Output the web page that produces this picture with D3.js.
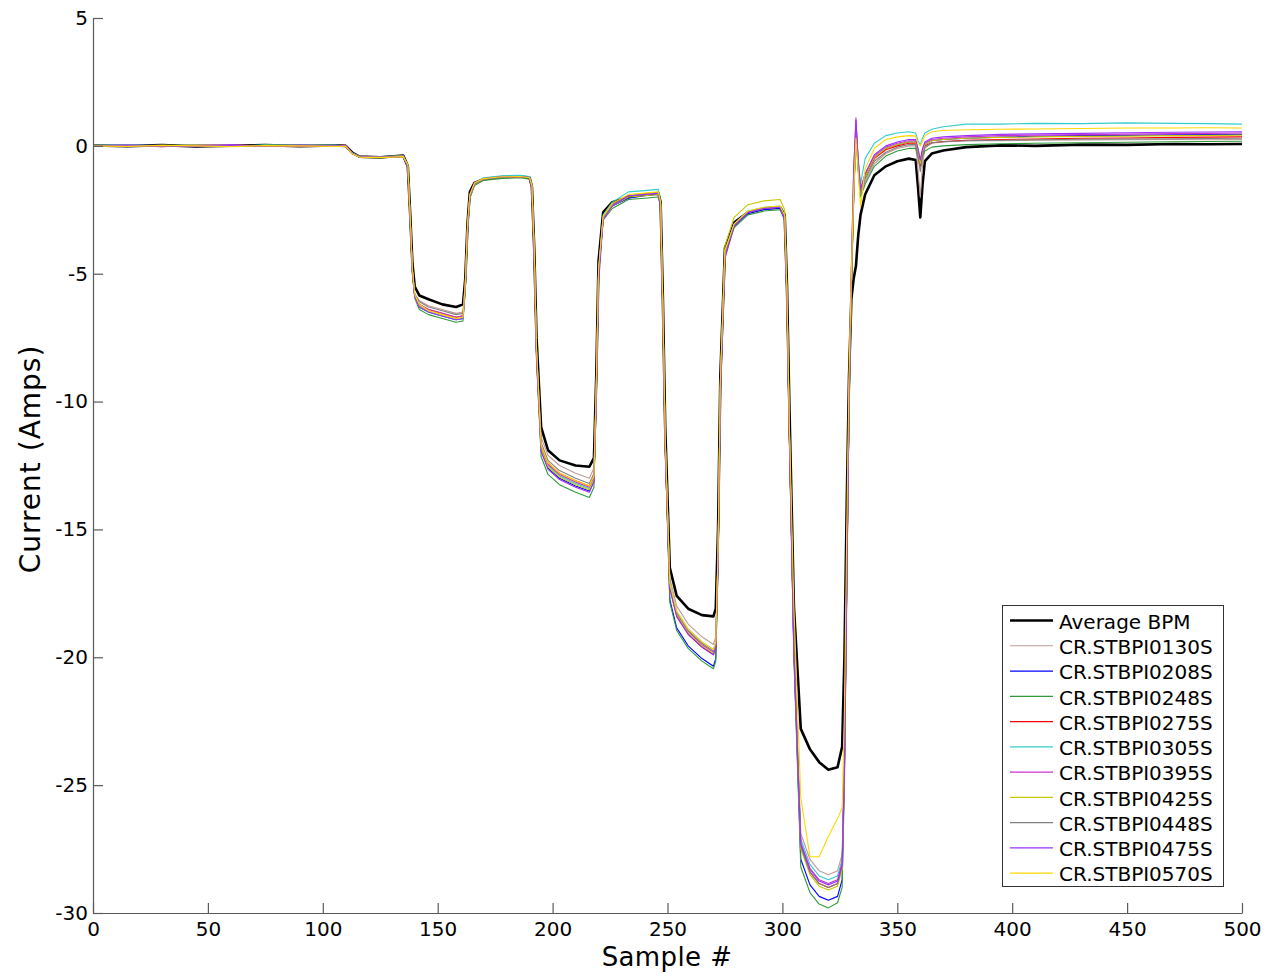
<!DOCTYPE html>
<html>
<head>
<meta charset="utf-8">
<script src="https://cdn.jsdelivr.net/npm/d3@7"></script>
<style>
  html, body { margin: 0; padding: 0; background: #fff; }
  svg { display: block; font-family: "DejaVu Sans", sans-serif; }
</style>
</head>
<body>
<svg id="chart" width="1274" height="973"></svg>
<script>
// ---------- DATA ----------
const sampleIdx = [
  0,15,30,45,60,75,90,105,
  110,113,116,125,135,
  137,138,139,140,142,146,152,158,
  161,162,163,164,166,170,178,186,
  190,191,192,193,195,198,203,210,
  216,218,219,220,222,226,233,240,
  246,247,248,249,251,254,259,265,
  270,271,272,273,275,279,285,292,
  299,301,302,303,305,308,312,316,
  320,324,326,327,328,329,330,331,
  332,333,334,336,340,345,350,355,
  358,359,360,361,362,365,370,380,
  395,410,430,450,470,485,500
];

const averageBPM = [
  0.02,-0.01,0.03,-0.02,0.01,0.03,-0.01,0.02,
  0.0,-0.28,-0.42,-0.45,-0.38,
  -0.8,-2.6,-4.6,-5.5,-5.85,-6.0,-6.2,-6.3,
  -6.2,-5.2,-3.0,-1.8,-1.45,-1.3,-1.22,-1.2,
  -1.25,-1.6,-4.0,-7.5,-11.0,-11.9,-12.3,-12.5,
  -12.55,-12.2,-9.0,-4.5,-2.6,-2.2,-2.0,-1.9,
  -1.85,-2.2,-6.0,-11.0,-16.5,-17.6,-18.1,-18.35,
  -18.4,-18.1,-15.0,-9.0,-4.0,-3.0,-2.6,-2.45,
  -2.4,-2.7,-5.5,-10.0,-18.0,-22.8,-23.6,-24.1,
  -24.4,-24.3,-23.5,-20.0,-14.0,-9.0,-6.0,-5.2,
  -4.7,-3.5,-2.7,-1.9,-1.15,-0.8,-0.6,-0.5,
  -0.55,-1.6,-2.8,-1.5,-0.6,-0.3,-0.18,-0.05,
  0.02,0.0,0.05,0.04,0.07,0.06,0.07
];

const stbpi0130S = [
  0.03,0.0,-0.02,0.02,0.04,-0.01,0.02,0.01,
  -0.01,-0.3,-0.42,-0.44,-0.4,
  -0.8,-2.8,-4.9,-5.8,-6.05,-6.25,-6.4,-6.55,
  -6.5,-5.35,-3.2,-2.0,-1.5,-1.3,-1.22,-1.2,
  -1.25,-1.6,-4.2,-8.0,-11.4,-12.1,-12.5,-12.8,
  -13.0,-12.6,-9.5,-5.0,-2.8,-2.3,-1.95,-1.9,
  -1.85,-2.3,-6.5,-11.5,-16.9,-18.0,-18.7,-19.2,
  -19.5,-19.2,-16.0,-9.5,-4.2,-3.1,-2.6,-2.45,
  -2.4,-2.8,-6.0,-11.0,-19.5,-26.9,-27.9,-28.35,
  -28.5,-28.35,-27.7,-24.0,-17.0,-10.0,-5.5,-2.0,
  0.6,-0.9,-1.9,-1.4,-0.7,-0.3,-0.1,0.0,
  0.0,-0.9,-2.0,-0.7,-0.1,0.1,0.15,0.2,
  0.2,0.22,0.23,0.24,0.25,0.24,0.25
];

const stbpi0208S = [
  -0.02,0.03,0.01,-0.03,0.02,0.0,0.03,-0.02,
  0.01,-0.29,-0.43,-0.45,-0.41,
  -0.85,-2.9,-5.0,-5.9,-6.3,-6.5,-6.65,-6.8,
  -6.75,-5.6,-3.3,-2.0,-1.5,-1.3,-1.22,-1.2,
  -1.25,-1.6,-4.3,-8.2,-11.9,-12.6,-13.0,-13.3,
  -13.5,-13.1,-9.7,-5.0,-2.8,-2.35,-2.05,-1.95,
  -1.9,-2.3,-6.6,-11.7,-17.75,-18.85,-19.55,-20.05,
  -20.35,-20.05,-16.3,-9.6,-4.2,-3.15,-2.65,-2.5,
  -2.45,-2.85,-6.1,-11.2,-19.8,-27.9,-28.9,-29.35,
  -29.5,-29.35,-28.7,-24.5,-17.3,-10.2,-5.6,-2.0,
  0.7,-0.8,-1.8,-1.2,-0.45,-0.1,0.05,0.15,
  0.15,-0.2,-0.7,-0.2,0.05,0.2,0.25,0.3,
  0.34,0.37,0.4,0.41,0.43,0.44,0.45
];

const stbpi0248S = [
  0.01,-0.02,0.03,0.0,-0.02,0.02,0.0,0.03,
  -0.02,-0.31,-0.43,-0.46,-0.42,
  -0.85,-2.9,-5.0,-5.95,-6.4,-6.6,-6.75,-6.9,
  -6.85,-5.7,-3.3,-2.05,-1.55,-1.35,-1.27,-1.25,
  -1.3,-1.65,-4.3,-8.3,-12.15,-12.85,-13.25,-13.55,
  -13.75,-13.35,-9.8,-5.1,-2.9,-2.45,-2.1,-2.05,
  -2.0,-2.4,-6.6,-11.8,-17.85,-18.95,-19.65,-20.15,
  -20.45,-20.15,-16.4,-9.7,-4.3,-3.2,-2.7,-2.55,
  -2.5,-2.9,-6.2,-11.3,-20.0,-28.2,-29.2,-29.65,
  -29.8,-29.6,-29.0,-24.8,-17.5,-10.3,-5.7,-2.2,
  0.4,-1.0,-2.0,-1.5,-0.8,-0.4,-0.2,-0.1,
  -0.1,-0.4,-0.8,-0.4,-0.2,-0.05,0.0,0.05,
  0.08,0.1,0.12,0.14,0.16,0.17,0.18
];

const stbpi0275S = [
  0.0,0.02,-0.03,0.03,0.0,-0.02,0.01,0.0,
  0.02,-0.3,-0.42,-0.44,-0.39,
  -0.8,-2.8,-4.9,-5.85,-6.2,-6.4,-6.55,-6.7,
  -6.65,-5.5,-3.2,-2.0,-1.5,-1.3,-1.22,-1.2,
  -1.25,-1.6,-4.2,-8.1,-11.7,-12.4,-12.8,-13.1,
  -13.3,-12.9,-9.6,-5.0,-2.8,-2.3,-1.95,-1.9,
  -1.85,-2.3,-6.5,-11.6,-17.3,-18.4,-19.1,-19.6,
  -19.9,-19.6,-16.1,-9.5,-4.2,-3.1,-2.6,-2.45,
  -2.4,-2.8,-6.0,-11.1,-19.6,-27.4,-28.4,-28.85,
  -29.0,-28.85,-28.2,-24.2,-17.1,-10.1,-5.5,-2.0,
  0.8,-0.8,-1.8,-1.2,-0.5,-0.15,0.0,0.1,
  0.1,-0.3,-0.8,-0.3,0.0,0.12,0.17,0.22,
  0.25,0.27,0.3,0.31,0.33,0.34,0.35
];

const stbpi0305S = [
  0.02,0.04,0.0,0.03,-0.01,0.04,0.02,0.03,
  0.0,-0.28,-0.41,-0.43,-0.38,
  -0.8,-2.8,-4.9,-5.9,-6.3,-6.5,-6.65,-6.8,
  -6.75,-5.6,-3.2,-1.95,-1.45,-1.25,-1.17,-1.15,
  -1.2,-1.55,-4.2,-8.1,-11.8,-12.5,-12.9,-13.2,
  -13.4,-13.0,-9.6,-4.9,-2.7,-2.2,-1.8,-1.75,
  -1.7,-2.2,-6.5,-11.5,-17.1,-18.2,-18.9,-19.4,
  -19.7,-19.4,-16.0,-9.4,-4.1,-3.05,-2.55,-2.4,
  -2.35,-2.75,-6.0,-11.0,-19.5,-27.1,-28.1,-28.55,
  -28.7,-28.55,-27.9,-24.1,-16.8,-9.6,-5.0,-1.5,
  0.5,-0.5,-1.5,-0.5,0.1,0.4,0.5,0.55,
  0.5,0.2,0.05,0.3,0.5,0.65,0.75,0.85,
  0.85,0.88,0.87,0.9,0.88,0.87,0.85
];

const stbpi0395S = [
  0.01,0.0,0.02,-0.02,0.03,0.01,-0.02,0.02,
  -0.01,-0.3,-0.42,-0.45,-0.4,
  -0.8,-2.8,-4.9,-5.85,-6.2,-6.4,-6.55,-6.7,
  -6.65,-5.5,-3.2,-2.0,-1.5,-1.3,-1.22,-1.2,
  -1.25,-1.6,-4.2,-8.1,-11.75,-12.45,-12.85,-13.15,
  -13.35,-12.95,-9.6,-5.0,-2.8,-2.3,-1.95,-1.9,
  -1.85,-2.3,-6.5,-11.6,-17.2,-18.3,-19.0,-19.5,
  -19.8,-19.5,-16.1,-9.5,-4.2,-3.1,-2.6,-2.45,
  -2.4,-2.8,-6.0,-11.1,-19.6,-27.25,-28.25,-28.7,
  -28.85,-28.7,-28.05,-24.1,-17.0,-9.8,-4.8,-1.0,
  1.1,-0.6,-1.7,-1.1,-0.4,-0.05,0.1,0.2,
  0.2,-0.15,-0.6,-0.15,0.1,0.25,0.3,0.35,
  0.4,0.42,0.44,0.46,0.48,0.49,0.5
];

const stbpi0425S = [
  -0.01,0.02,0.0,0.03,-0.02,0.02,0.01,-0.01,
  0.0,-0.3,-0.43,-0.44,-0.4,
  -0.8,-2.8,-4.9,-5.9,-6.25,-6.45,-6.6,-6.75,
  -6.7,-5.55,-3.2,-2.0,-1.5,-1.3,-1.22,-1.2,
  -1.25,-1.6,-4.2,-8.1,-11.85,-12.55,-12.95,-13.25,
  -13.45,-13.05,-9.6,-5.0,-2.8,-2.35,-2.0,-1.95,
  -1.9,-2.3,-6.5,-11.6,-17.25,-18.35,-19.05,-19.55,
  -19.85,-19.55,-16.0,-9.3,-3.9,-2.8,-2.3,-2.15,
  -2.1,-2.5,-5.8,-11.0,-19.6,-27.5,-28.5,-28.95,
  -29.1,-28.95,-28.3,-24.3,-17.1,-10.0,-5.5,-2.0,
  0.6,-0.8,-1.8,-1.2,-0.45,-0.1,0.05,0.15,
  0.15,-0.25,-0.7,-0.25,0.05,0.2,0.25,0.3,
  0.33,0.35,0.37,0.38,0.4,0.41,0.42
];

const stbpi0448S = [
  0.02,-0.01,0.01,0.02,-0.01,0.0,0.03,0.01,
  0.01,-0.29,-0.42,-0.44,-0.4,
  -0.8,-2.8,-4.9,-5.8,-6.1,-6.3,-6.45,-6.6,
  -6.55,-5.4,-3.2,-2.0,-1.5,-1.3,-1.22,-1.2,
  -1.25,-1.6,-4.2,-8.0,-11.6,-12.3,-12.7,-13.0,
  -13.2,-12.8,-9.5,-5.0,-2.8,-2.3,-1.95,-1.9,
  -1.85,-2.3,-6.5,-11.6,-17.15,-18.25,-18.95,-19.45,
  -19.75,-19.45,-16.0,-9.5,-4.2,-3.1,-2.6,-2.45,
  -2.4,-2.8,-6.0,-11.1,-19.6,-27.4,-28.4,-28.85,
  -29.0,-28.85,-28.2,-24.2,-17.1,-10.0,-5.5,-2.0,
  0.5,-0.9,-1.9,-1.3,-0.6,-0.25,-0.05,0.05,
  0.05,-0.45,-1.0,-0.4,-0.05,0.12,0.16,0.2,
  0.22,0.24,0.26,0.27,0.28,0.29,0.3
];

const stbpi0475S = [
  0.0,0.03,-0.01,0.01,0.03,-0.02,0.02,0.0,
  0.0,-0.3,-0.43,-0.45,-0.41,
  -0.85,-2.9,-5.0,-5.9,-6.3,-6.5,-6.65,-6.8,
  -6.75,-5.6,-3.1,-1.9,-1.45,-1.28,-1.21,-1.2,
  -1.25,-1.7,-4.5,-8.4,-11.95,-12.65,-13.05,-13.35,
  -13.55,-13.15,-10.0,-5.4,-2.9,-2.35,-1.95,-1.9,
  -1.85,-2.4,-6.9,-12.0,-17.3,-18.4,-19.1,-19.6,
  -19.9,-19.6,-16.5,-10.0,-4.4,-3.15,-2.6,-2.45,
  -2.4,-2.9,-6.3,-11.5,-19.9,-27.3,-28.3,-28.75,
  -28.9,-28.75,-28.1,-24.5,-17.5,-10.2,-4.9,-1.0,
  1.0,-0.6,-1.7,-1.1,-0.35,0.0,0.15,0.25,
  0.25,-0.1,-0.55,-0.1,0.15,0.3,0.35,0.4,
  0.45,0.47,0.49,0.51,0.53,0.54,0.55
];

const stbpi0570S = [
  0.0,-0.02,0.02,0.0,-0.03,0.01,0.0,-0.02,
  -0.02,-0.32,-0.44,-0.46,-0.42,
  -0.75,-2.7,-4.8,-5.8,-6.2,-6.45,-6.6,-6.75,
  -6.7,-5.4,-3.0,-1.9,-1.45,-1.28,-1.21,-1.2,
  -1.25,-1.55,-4.0,-7.9,-11.7,-12.4,-12.8,-13.1,
  -13.3,-12.9,-9.3,-4.8,-2.75,-2.25,-1.9,-1.85,
  -1.8,-2.2,-6.3,-11.4,-17.1,-18.2,-18.9,-19.4,
  -19.7,-19.4,-15.8,-9.2,-4.1,-3.05,-2.55,-2.4,
  -2.35,-2.7,-5.8,-10.8,-18.0,-25.5,-27.8,-27.8,
  -27.0,-26.3,-25.9,-22.0,-15.0,-9.0,-5.0,-1.8,
  0.3,-1.0,-2.4,-0.9,-0.1,0.25,0.35,0.4,
  0.38,0.1,0.0,0.2,0.4,0.55,0.6,0.63,
  0.65,0.66,0.68,0.7,0.7,0.71,0.7
];

const seriesNames = [
  "Average BPM","CR.STBPI0130S","CR.STBPI0208S","CR.STBPI0248S","CR.STBPI0275S",
  "CR.STBPI0305S","CR.STBPI0395S","CR.STBPI0425S","CR.STBPI0448S","CR.STBPI0475S","CR.STBPI0570S"
];
const seriesValues = [
  averageBPM, stbpi0130S, stbpi0208S, stbpi0248S, stbpi0275S,
  stbpi0305S, stbpi0395S, stbpi0425S, stbpi0448S, stbpi0475S, stbpi0570S
];
const seriesColors = [
  "#000000","#c09a9a","#0000ff","#2e9a3a","#ff0000",
  "#33cccc","#cc33cc","#c8c800","#808080","#9b30ff","#ffd700"
];
const xTicks = [0,50,100,150,200,250,300,350,400,450,500];
const yTicks = [5,0,-5,-10,-15,-20,-25,-30];
const xLabel = "Sample #";
const yLabel = "Current (Amps)";

// ---------- CHART ----------
const svg = d3.select("#chart");
const x = d3.scaleLinear().domain([0, 500]).range([93, 1242]);
const y = d3.scaleLinear().domain([-30, 5]).range([913, 18]);

const line = d3.line()
  .x(d => x(d[0]))
  .y(d => y(d[1]));

const plot = svg.append("g");
seriesValues.forEach((vals, i) => {
  const pts = sampleIdx.map((s, k) => [s, vals[k]]);
  plot.append("path")
    .datum(pts)
    .attr("fill", "none")
    .attr("stroke", seriesColors[i])
    .attr("stroke-width", i === 0 ? 2.6 : 1.1)
    .attr("stroke-linejoin", "round")
    .attr("d", line);
});

const axisColor = "#5a5a5a";
const plainFmt = d => String(d);
const gx = svg.append("g")
  .attr("transform", "translate(0,913)")
  .call(d3.axisBottom(x).tickValues(xTicks).tickFormat(plainFmt)
    .tickSizeInner(-10).tickSizeOuter(0).tickPadding(9));
const gy = svg.append("g")
  .attr("transform", "translate(93,0)")
  .call(d3.axisLeft(y).tickValues(yTicks).tickFormat(plainFmt)
    .tickSizeInner(-10).tickSizeOuter(0).tickPadding(5));

[gx, gy].forEach(g => {
  g.select(".domain").attr("stroke", axisColor).attr("stroke-width", 1.2);
  g.selectAll(".tick line").attr("stroke", axisColor).attr("stroke-width", 1.2);
  g.selectAll(".tick text")
    .attr("fill", "#000")
    .style("font-family", "'DejaVu Sans', sans-serif")
    .style("font-size", "20px");
});

svg.append("text")
  .attr("x", 667)
  .attr("y", 966)
  .attr("text-anchor", "middle")
  .style("font-size", "26px")
  .style("letter-spacing", "0.4px")
  .style("fill", "#000")
  .text(xLabel);

svg.append("text")
  .attr("transform", "translate(40,459) rotate(-90)")
  .attr("text-anchor", "middle")
  .style("font-size", "28px")
  .style("letter-spacing", "1px")
  .style("fill", "#000")
  .text(yLabel);

// ---------- LEGEND ----------
const legend = svg.append("g");
legend.append("rect")
  .attr("x", 1002.5).attr("y", 605.5)
  .attr("width", 221).attr("height", 281)
  .attr("fill", "#fff")
  .attr("stroke", "#333")
  .attr("stroke-width", 1);

seriesNames.forEach((name, i) => {
  const cy = 620.5 + i * 25.27;
  legend.append("line")
    .attr("x1", 1010).attr("x2", 1053)
    .attr("y1", cy).attr("y2", cy)
    .attr("stroke", seriesColors[i])
    .attr("stroke-width", i === 0 ? 2.6 : 1.2);
  legend.append("text")
    .attr("x", 1059)
    .attr("y", cy + 1)
    .attr("dy", "0.36em")
    .style("font-size", "20px")
    .style("fill", "#000")
    .text(name);
});
</script>
</body>
</html>
